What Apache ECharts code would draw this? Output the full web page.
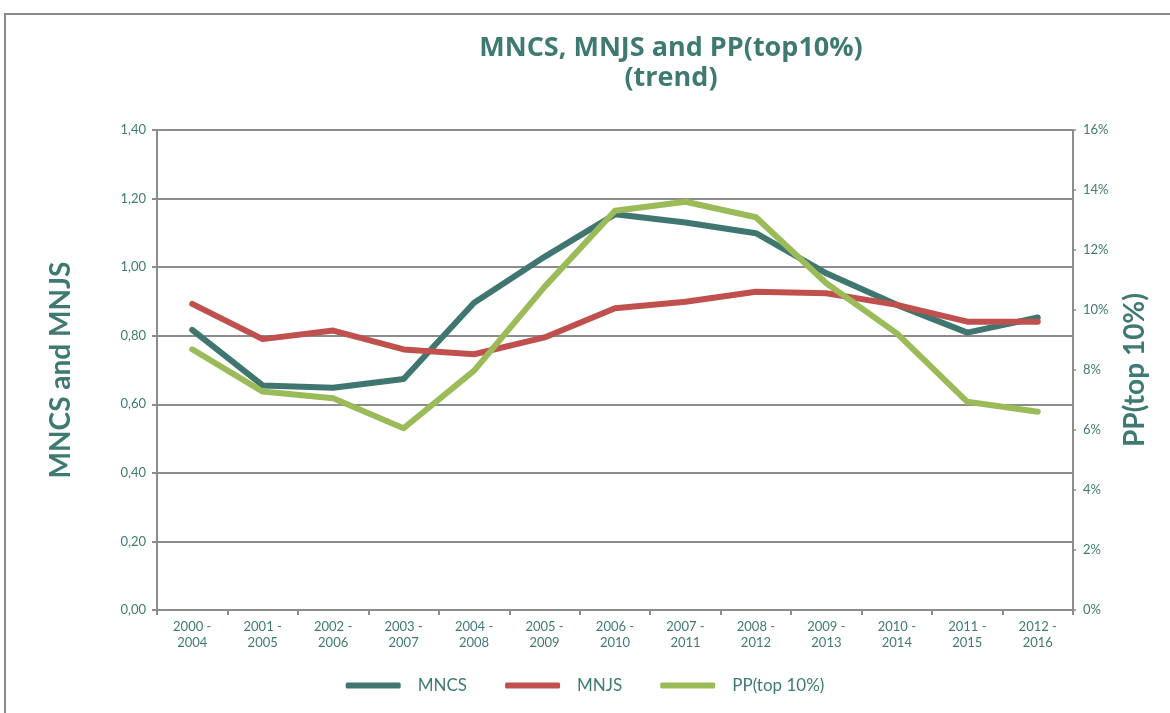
<!DOCTYPE html>
<html>
<head>
<meta charset="utf-8">
<script src="https://cdn.jsdelivr.net/npm/echarts@6/dist/echarts.min.js"></script>
<style>
	html, body { margin: 0; padding: 0; background: #fff; }
	#chart { width: 1170px; height: 713px; }
</style>
</head>
<body>
<div id="chart"></div>
<script>
//DATA

var categories = [ '2000 -\n2004', '2001 -\n2005', '2002 -\n2006', '2003 -\n2007',
		'2004 -\n2008', '2005 -\n2009', '2006 -\n2010', '2007 -\n2011', '2008 -\n2012',
		'2009 -\n2013', '2010 -\n2014', '2011 -\n2015', '2012 -\n2016' ];

var mncs = [ 0.817, 0.655, 0.648, 0.674, 0.896, 1.030, 1.154, 1.130, 1.099, 0.982, 0.890, 0.809, 0.853 ];
var mnjs = [ 0.893, 0.790, 0.815, 0.760, 0.746, 0.795, 0.880, 0.899, 0.928, 0.924, 0.890, 0.841, 0.841 ];
// PP(top 10%) en porcentaje
var pp = [ 8.69, 7.28, 7.06, 6.06, 7.98, 10.77, 13.31, 13.61, 13.09, 10.89, 9.22, 6.94, 6.61 ];

var textColor = '#3f7a72';
var gridColor = '#8c8c8c';
var fontName = 'Lato, "Open Sans", sans-serif';

/**
 * Formatea el eje izquierdo con coma decimal
 */
function commaFormat(v) {
	return v.toFixed(2).replace('.', ',');
}

function lineSeries(name, data, color, axis) {
	return {
		name : name,
		type : 'line',
		data : data,
		yAxisIndex : axis,
		symbol : 'none',
		smooth : false,
		lineStyle : {
			color : color,
			width : 6,
			cap : 'round',
			join : 'round'
		},
		itemStyle : {
			color : color
		}
	};
}

var chart = echarts.init(document.getElementById('chart'));

var option = {
	backgroundColor : '#fff',
	animation : false,
	textStyle : {
		fontFamily : fontName
	},
	graphic : [ {
		type : 'rect',
		shape : { x : 5, y : 14, width : 1300, height : 900 },
		style : { fill : 'none', stroke : '#8a8a8a', lineWidth : 2 },
		silent : true
	} ],
	title : {
		text : 'MNCS, MNJS and PP(top10%)\n(trend)',
		left : 666,
		textAlign : 'center',
		top : 28,
		textStyle : {
			color : textColor,
			fontSize : 27,
			fontWeight : 'bold',
			lineHeight : 30,
			fontFamily : '"Liberation Sans Narrow", "Open Sans", sans-serif'
		}
	},
	legend : {
		bottom : 14,
		left : 'center',
		icon : 'roundRect',
		itemWidth : 55,
		itemHeight : 6,
		itemGap : 38,
		textStyle : {
			color : textColor,
			fontSize : 17,
			padding : [ 0, 0, 0, 12 ]
		},
		data : [ 'MNCS', 'MNJS', 'PP(top 10%)' ]
	},
	grid : {
		left : 157,
		right : 97,
		top : 130,
		bottom : 103
	},
	xAxis : {
		type : 'category',
		data : categories,
		axisLine : { lineStyle : { color : gridColor, width : 2 } },
		axisTick : { show : true, length : 5, lineStyle : { color : gridColor, width : 2 } },
		axisLabel : {
			color : textColor,
			fontSize : 13,
			lineHeight : 16,
			margin : 9
		}
	},
	yAxis : [ {
		type : 'value',
		min : 0,
		max : 1.4,
		interval : 0.2,
		name : 'MNCS and MNJS',
		nameLocation : 'middle',
		nameRotate : 90,
		nameGap : 82,
		nameTextStyle : {
			color : textColor,
			fontSize : 28,
			fontWeight : 'bold'
		},
		axisLine : { show : true, lineStyle : { color : gridColor, width : 2 } },
		axisTick : { show : true, length : 5, lineStyle : { color : gridColor, width : 2 } },
		axisLabel : {
			color : textColor,
			fontSize : 13,
			margin : 11,
			formatter : commaFormat
		},
		splitLine : { lineStyle : { color : gridColor, width : 2 } }
	}, {
		type : 'value',
		min : 0,
		max : 16,
		interval : 2,
		position : 'right',
		name : 'PP(top 10%)',
		nameLocation : 'middle',
		nameRotate : 90,
		nameGap : 48,
		nameTextStyle : {
			color : textColor,
			fontSize : 28,
			fontWeight : 'bold'
		},
		axisLine : { show : true, lineStyle : { color : gridColor, width : 2 } },
		axisTick : { show : true, length : 3, lineStyle : { color : gridColor, width : 1.5 } },
		axisLabel : {
			color : textColor,
			fontSize : 13,
			margin : 10,
			formatter : '{value}%'
		},
		splitLine : { show : false }
	} ],
	series : [
		lineSeries('MNCS', mncs, '#3f7670', 0),
		lineSeries('MNJS', mnjs, '#c0504d', 0),
		lineSeries('PP(top 10%)', pp, '#9bbb59', 1)
	]
};

chart.setOption(option);
</script>
</body>
</html>
